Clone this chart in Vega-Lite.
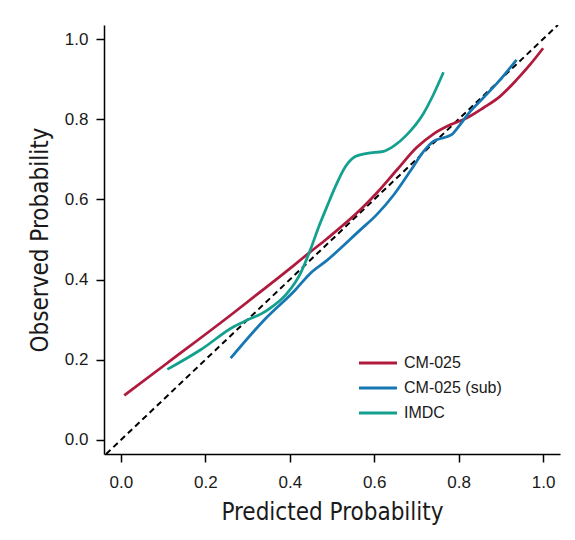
{
  "$schema": "https://vega.github.io/schema/vega-lite/v6.json",
  "width": 456,
  "height": 429,
  "autosize": {"type": "none"},
  "padding": {"left": 104, "top": 25, "right": 15, "bottom": 86},
  "background": "white",
  "config": {
    "view": {"stroke": null},
    "axis": {
      "grid": false,
      "domainColor": "black",
      "domainWidth": 1.5,
      "tickColor": "black",
      "tickWidth": 1.5,
      "tickSize": 8,
      "labelFont": "Liberation Sans",
      "labelFontSize": 17,
      "labelColor": "#1a1a1a",
      "titleFont": "DejaVu Sans Condensed",
      "titleFontSize": 24,
      "titleFontWeight": "normal",
      "titleColor": "#1a1a1a"
    },
    "legend": {
      "orient": "none",
      "legendX": 263,
      "legendY": 327,
      "padding": 0,
      "symbolType": "M-2,0H2",
      "symbolSize": 361,
      "symbolStrokeWidth": 3,
      "labelFont": "Liberation Sans",
      "labelFontSize": 16,
      "labelColor": "#1a1a1a",
      "labelOffset": 15,
      "rowPadding": 6
    }
  },
  "datasets": {
    "curves": [
      {"model": "CM-025", "pred": 0.008, "obs": 0.111},
      {"model": "CM-025", "pred": 0.110, "obs": 0.192},
      {"model": "CM-025", "pred": 0.268, "obs": 0.318},
      {"model": "CM-025", "pred": 0.331, "obs": 0.370},
      {"model": "CM-025", "pred": 0.409, "obs": 0.435},
      {"model": "CM-025", "pred": 0.445, "obs": 0.466},
      {"model": "CM-025", "pred": 0.488, "obs": 0.502},
      {"model": "CM-025", "pred": 0.567, "obs": 0.574},
      {"model": "CM-025", "pred": 0.606, "obs": 0.616},
      {"model": "CM-025", "pred": 0.654, "obs": 0.674},
      {"model": "CM-025", "pred": 0.701, "obs": 0.730},
      {"model": "CM-025", "pred": 0.740, "obs": 0.763},
      {"model": "CM-025", "pred": 0.780, "obs": 0.786},
      {"model": "CM-025", "pred": 0.819, "obs": 0.803},
      {"model": "CM-025", "pred": 0.858, "obs": 0.828},
      {"model": "CM-025", "pred": 0.898, "obs": 0.857},
      {"model": "CM-025", "pred": 0.937, "obs": 0.898},
      {"model": "CM-025", "pred": 0.969, "obs": 0.936},
      {"model": "CM-025", "pred": 1.000, "obs": 0.977},
      {"model": "CM-025 (sub)", "pred": 0.260, "obs": 0.204},
      {"model": "CM-025 (sub)", "pred": 0.340, "obs": 0.300},
      {"model": "CM-025 (sub)", "pred": 0.413, "obs": 0.374},
      {"model": "CM-025 (sub)", "pred": 0.449, "obs": 0.416},
      {"model": "CM-025 (sub)", "pred": 0.488, "obs": 0.448},
      {"model": "CM-025 (sub)", "pred": 0.567, "obs": 0.524},
      {"model": "CM-025 (sub)", "pred": 0.606, "obs": 0.562},
      {"model": "CM-025 (sub)", "pred": 0.646, "obs": 0.611},
      {"model": "CM-025 (sub)", "pred": 0.685, "obs": 0.670},
      {"model": "CM-025 (sub)", "pred": 0.717, "obs": 0.720},
      {"model": "CM-025 (sub)", "pred": 0.740, "obs": 0.745},
      {"model": "CM-025 (sub)", "pred": 0.768, "obs": 0.755},
      {"model": "CM-025 (sub)", "pred": 0.784, "obs": 0.762},
      {"model": "CM-025 (sub)", "pred": 0.803, "obs": 0.786},
      {"model": "CM-025 (sub)", "pred": 0.827, "obs": 0.819},
      {"model": "CM-025 (sub)", "pred": 0.858, "obs": 0.853},
      {"model": "CM-025 (sub)", "pred": 0.898, "obs": 0.898},
      {"model": "CM-025 (sub)", "pred": 0.937, "obs": 0.948},
      {"model": "IMDC", "pred": 0.110, "obs": 0.176},
      {"model": "IMDC", "pred": 0.189, "obs": 0.225},
      {"model": "IMDC", "pred": 0.268, "obs": 0.283},
      {"model": "IMDC", "pred": 0.291, "obs": 0.295},
      {"model": "IMDC", "pred": 0.347, "obs": 0.324},
      {"model": "IMDC", "pred": 0.394, "obs": 0.366},
      {"model": "IMDC", "pred": 0.425, "obs": 0.415},
      {"model": "IMDC", "pred": 0.449, "obs": 0.475},
      {"model": "IMDC", "pred": 0.468, "obs": 0.530},
      {"model": "IMDC", "pred": 0.488, "obs": 0.582},
      {"model": "IMDC", "pred": 0.508, "obs": 0.632},
      {"model": "IMDC", "pred": 0.532, "obs": 0.682},
      {"model": "IMDC", "pred": 0.555, "obs": 0.707},
      {"model": "IMDC", "pred": 0.583, "obs": 0.715},
      {"model": "IMDC", "pred": 0.622, "obs": 0.720},
      {"model": "IMDC", "pred": 0.646, "obs": 0.733},
      {"model": "IMDC", "pred": 0.677, "obs": 0.761},
      {"model": "IMDC", "pred": 0.717, "obs": 0.815},
      {"model": "IMDC", "pred": 0.740, "obs": 0.861},
      {"model": "IMDC", "pred": 0.764, "obs": 0.917}
    ],
    "ref": [
      {"pred": -0.035, "obs": -0.035},
      {"pred": 1.035, "obs": 1.035}
    ]
  },
  "layer": [
    {
      "data": {"name": "ref"},
      "mark": {"type": "line", "color": "black", "strokeWidth": 2, "strokeDash": [6, 4], "clip": true},
      "encoding": {
        "x": {"field": "pred", "type": "quantitative"},
        "y": {"field": "obs", "type": "quantitative"}
      }
    },
    {
      "data": {"name": "curves"},
      "mark": {"type": "line", "strokeWidth": 2.75, "interpolate": "monotone", "clip": true},
      "encoding": {
        "x": {
          "field": "pred",
          "type": "quantitative",
          "scale": {"domain": [-0.04, 1.04], "nice": false, "zero": false},
          "axis": {"values": [0, 0.2, 0.4, 0.6, 0.8, 1.0], "format": ".1f", "labelPadding": 12, "titlePadding": 10},
          "title": "Predicted Probability"
        },
        "y": {
          "field": "obs",
          "type": "quantitative",
          "scale": {"domain": [-0.035, 1.035], "nice": false, "zero": false},
          "axis": {"values": [0, 0.2, 0.4, 0.6, 0.8, 1.0], "format": ".1f", "labelPadding": 8, "titlePadding": 12},
          "title": "Observed Probability"
        },
        "color": {
          "field": "model",
          "type": "nominal",
          "scale": {"domain": ["CM-025", "CM-025 (sub)", "IMDC"], "range": ["#B01A3C", "#1677B3", "#13A08F"]},
          "legend": {"title": null}
        }
      }
    }
  ],
  "resolve": {"scale": {"x": "shared", "y": "shared"}}
}
